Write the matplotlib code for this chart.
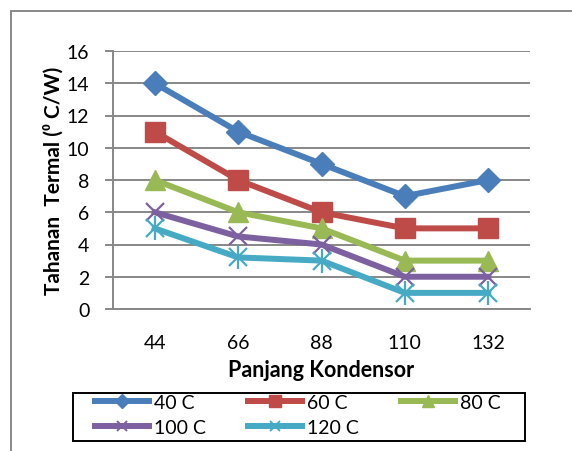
import matplotlib.pyplot as plt
from matplotlib.lines import Line2D
from matplotlib.patches import Rectangle

plt.rcParams['font.family'] = ['Lato', 'DejaVu Sans']

# Data: thermal resistance per condenser length
panjang = ['44', '66', '88', '110', '132']
seri_40 = [14, 11, 9, 7, 8]
seri_60 = [11, 8, 6, 5, 5]
seri_80 = [8, 6, 5, 3, 3]
seri_100 = [6, 4.5, 4, 2, 2]
seri_120 = [5, 3.2, 3, 1, 1]
label_seri = ['40 C', '60 C', '80 C', '100 C', '120 C']

warna = ['#4A7EBB', '#BE4B48', '#98B954', '#7D60A0', '#46AAC5']

W, H = 572, 452
fig = plt.figure(figsize=(W / 100, H / 100), dpi=100)
ax = fig.add_axes([113 / W, 142 / H, 417 / W, 258 / H])

x = range(len(panjang))
lw = 4.3
ax.plot(x, seri_40, color=warna[0], lw=lw, marker='D', ms=12, zorder=5)
ax.plot(x, seri_60, color=warna[1], lw=lw, marker='s', ms=14, zorder=5)
ax.plot(x, seri_80, color=warna[2], lw=lw, marker='^', ms=15, zorder=5)
ax.plot(x, seri_100, color=warna[3], lw=lw, marker='x', ms=13, mew=1.6, zorder=5)
ax.plot(x, seri_120, color=warna[4], lw=lw, marker='x', ms=13, mew=1.6, zorder=5)
ax.plot(x, seri_120, color=warna[4], lw=0, marker='|', ms=17, mew=1.6, zorder=5)

ax.set_xlim(-0.5, 4.5)
ax.set_ylim(0, 16)
ax.set_yticks(range(0, 17, 2))
ax.set_xticks(list(x))
ax.set_xticklabels(panjang)
ax.grid(axis='y', color='#878787', lw=1.4)
ax.set_axisbelow(True)

for s in ['top', 'right']:
    ax.spines[s].set_visible(False)
for s in ['left', 'bottom']:
    ax.spines[s].set_color('#878787')
    ax.spines[s].set_linewidth(1.4)

ax.tick_params(axis='y', length=6, width=1.4, color='#878787', labelsize=14, pad=11)
ax.tick_params(axis='x', length=0, labelsize=14, pad=18)

ax.set_xlabel('Panjang Kondensor', fontsize=15.5, fontweight='bold', labelpad=6)
ax.set_ylabel('Tahanan  Termal (\u2070 C/W)', fontsize=15, fontweight='bold', labelpad=2)

# legend with smaller markers, ordered so rows read 40/60/80 then 100/120
handles = [
    Line2D([], [], color=warna[0], lw=lw, marker='D', ms=7),
    Line2D([], [], color=warna[1], lw=lw, marker='s', ms=9),
    Line2D([], [], color=warna[2], lw=lw, marker='^', ms=8),
    Line2D([], [], color=warna[3], lw=lw, marker='x', ms=7, mew=1.4),
    Line2D([], [], color=warna[4], lw=lw, marker='x', ms=7, mew=1.4),
]
urutan = [0, 3, 1, 4, 2]
leg = fig.legend([handles[i] for i in urutan], [label_seri[i] for i in urutan],
                 ncol=3, loc='upper left',
                 bbox_to_anchor=(95 / W, 1 - 395 / H), fontsize=14,
                 frameon=False, handlelength=2.8, handletextpad=0.25,
                 columnspacing=2.15, borderpad=0, labelspacing=0.4,
                 borderaxespad=0)

# legend frame and chart area border
fig.patches.append(Rectangle((73 / W, 1 - 442 / H), 452 / W, 48 / H,
                             transform=fig.transFigure, fill=False,
                             edgecolor='black', lw=1.4))
fig.patches.append(Rectangle((11 / W, -0.1), 1.2, 1 - 12 / H + 0.1,
                             transform=fig.transFigure, fill=False,
                             edgecolor='#888888', lw=1.4))

fig.savefig('out.png', dpi=100)
